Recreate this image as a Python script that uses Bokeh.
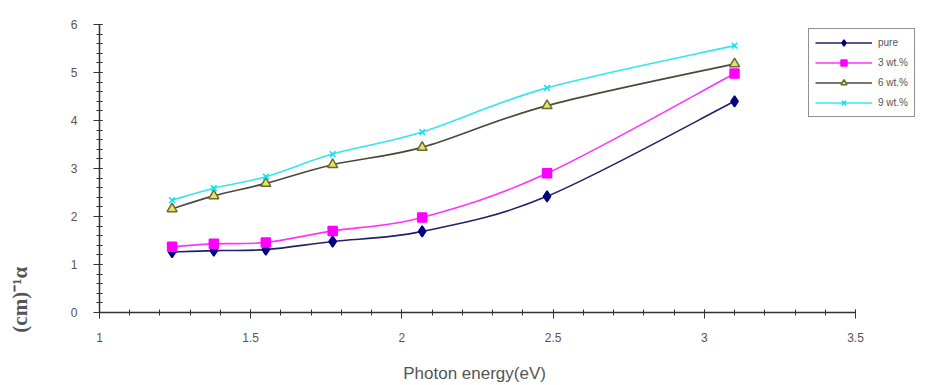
import numpy as np
from bokeh.plotting import figure
from bokeh.models import (Range1d, FixedTicker, Legend, LegendItem, LinearAxis,
                          ColumnDataSource)
from bokeh.embed import file_html
from bokeh.resources import INLINE

# ---- data ----
energy = [1.24, 1.378, 1.55, 1.771, 2.067, 2.48, 3.1]
pure = [1.26, 1.29, 1.31, 1.48, 1.69, 2.42, 4.40]
wt3 = [1.37, 1.43, 1.46, 1.70, 1.98, 2.90, 4.98]
wt6 = [2.16, 2.43, 2.69, 3.08, 3.44, 4.31, 5.18]
wt9 = [2.34, 2.59, 2.83, 3.30, 3.76, 4.68, 5.56]
series_names = ["pure", "3 wt.%", "6 wt.%", "9 wt.%"]
x_ticks = [1, 1.5, 2, 2.5, 3, 3.5]
x_tick_labels = ["1", "1.5", "2", "2.5", "3", "3.5"]
y_ticks = [0, 1, 2, 3, 4, 5, 6]
x_title = "Photon energy(eV)"
y_title = "(cm)⁻¹α"

NBSP = "\u00a0"
W, H = 920, 385
# frame extends right beyond the axis end (3.5) to leave room for the legend
p = figure(width=W, height=H, output_backend="svg", toolbar_location=None,
           x_range=Range1d(1, 1 + (W - 99) / 302.4), y_range=Range1d(0, 6),
           min_border_left=99, min_border_right=0, min_border_top=24,
           min_border_bottom=H - 312)
p.outline_line_color = None
p.xgrid.visible = False
p.ygrid.visible = False
p.background_fill_color = "white"

p.xaxis.bounds = (x_ticks[0], x_ticks[-1])
p.xaxis.ticker = FixedTicker(ticks=x_ticks,
                             minor_ticks=[round(1 + 0.1 * i, 2) for i in range(26)])
p.yaxis.ticker = FixedTicker(ticks=y_ticks,
                             minor_ticks=[round(0.2 * i, 2) for i in range(31)])
p.xaxis.major_label_overrides = {t: l for t, l in zip(x_ticks, x_tick_labels)}
p.yaxis.major_label_overrides = {t: str(t) for t in y_ticks}

for ax in (p.xaxis, p.yaxis):
    ax.axis_line_color = "#333333"
    ax.axis_line_width = 1.5
    ax.major_tick_line_color = "#333333"
    ax.minor_tick_line_color = "#333333"
    ax.major_tick_in = 3
    ax.major_tick_out = 6
    ax.minor_tick_in = 3
    ax.minor_tick_out = 3
    ax.major_label_text_font = "Liberation Sans"
    ax.major_label_text_font_size = "12px"
    ax.major_label_text_color = "#555555"

p.xaxis.major_label_standoff = 14
p.yaxis.major_label_standoff = 16

# axis titles are centred on the frame; trailing no-break spaces shift the
# visible words to where the original places them
p.xaxis.axis_label = x_title + NBSP * 15
p.xaxis.axis_label_text_font = "Liberation Sans"
p.xaxis.axis_label_text_font_style = "normal"
p.xaxis.axis_label_text_font_size = "17px"
p.xaxis.axis_label_text_color = "#555555"
p.xaxis.axis_label_standoff = 19

ylab_axis = LinearAxis(ticker=FixedTicker(ticks=[]),
                       axis_line_color=None, major_tick_line_color=None,
                       minor_tick_line_color=None, major_tick_out=0,
                       minor_tick_out=0, major_label_standoff=0,
                       axis_label=y_title + NBSP * 50, axis_label_standoff=36,
                       axis_label_text_font="Liberation Serif",
                       axis_label_text_font_style="bold",
                       axis_label_text_font_size="21px",
                       axis_label_text_color="#555555")
p.add_layout(ylab_axis, "left")


def bezier_ctrl(xs, ys, t=1 / 6):
    xs = np.asarray(xs, float)
    ys = np.asarray(ys, float)
    n = len(xs)
    out = {k: [] for k in ("x0", "y0", "x1", "y1", "cx0", "cy0", "cx1", "cy1")}
    for i in range(n - 1):
        pm = i - 1 if i > 0 else i
        pp = i + 2 if i + 2 < n else i + 1
        out["x0"].append(xs[i]); out["y0"].append(ys[i])
        out["x1"].append(xs[i + 1]); out["y1"].append(ys[i + 1])
        out["cx0"].append(xs[i] + (xs[i + 1] - xs[pm]) * t)
        out["cy0"].append(ys[i] + (ys[i + 1] - ys[pm]) * t)
        out["cx1"].append(xs[i + 1] - (xs[pp] - xs[i]) * t)
        out["cy1"].append(ys[i + 1] - (ys[pp] - ys[i]) * t)
    return out


styles = [
    dict(vals=pure, line="#22226a", marker="diamond", size=11, fill="#000080", mline="#000080"),
    dict(vals=wt3, line="#ff33ff", marker="square", size=9, fill="#ff00ff", mline="#ff00ff"),
    dict(vals=wt6, line="#4a4a3a", marker="triangle", size=10, fill="#e6e070", mline="#6b6b2a"),
    dict(vals=wt9, line="#33e6f0", marker="x", size=8, fill="#00e5ee", mline="#00e5ee"),
]

items = []
for name, st in zip(series_names, styles):
    src = ColumnDataSource(bezier_ctrl(energy, st["vals"]))
    p.bezier(x0="x0", y0="y0", x1="x1", y1="y1", cx0="cx0", cy0="cy0",
             cx1="cx1", cy1="cy1", source=src, line_color=st["line"], line_width=1.6)
    # single-point line: draws nothing on the plot, provides the legend line
    lr = p.line(x=energy[:1], y=st["vals"][:1], line_color=st["line"], line_width=1.6)
    sr = p.scatter(x=energy, y=st["vals"], marker=st["marker"], size=st["size"],
                   fill_color=st["fill"], line_color=st["mline"], line_width=1.5)
    items.append(LegendItem(label=name, renderers=[lr, sr]))

legend = Legend(items=items, location=(709, 195), orientation="vertical",
                border_line_color="#222222", border_line_width=1.2,
                background_fill_color="white", background_fill_alpha=1,
                glyph_width=57, glyph_height=15, label_height=15, spacing=5,
                padding=6, margin=0, label_standoff=6,
                label_text_font="Liberation Sans", label_text_font_size="10px",
                label_text_color="#555555")
p.add_layout(legend)

open("out.html", "w").write(file_html(p, INLINE))
